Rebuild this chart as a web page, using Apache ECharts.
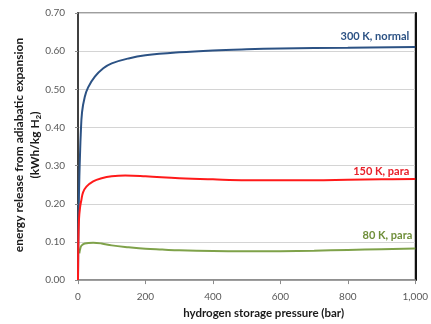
<!DOCTYPE html>
<html>
<head>
<meta charset="utf-8">
<script src="https://cdn.jsdelivr.net/npm/echarts@6/dist/echarts.min.js"></script>
<style>
  html, body { margin: 0; padding: 0; background: #fff; }
  #chart { width: 431px; height: 324px; }
</style>
</head>
<body>
<div id="chart"></div>
<script>
// Energy released by adiabatic expansion of stored hydrogen vs. storage pressure
const xTicks = [0, 200, 400, 600, 800, 1000];
const yTicks = ['0.00', '0.10', '0.20', '0.30', '0.40', '0.50', '0.60', '0.70'];

const seriesNames = ['300 K, normal', '150 K, para', '80 K, para'];

const p300 = [0, 1, 2, 4, 6, 8, 12, 20, 30, 50, 75, 100, 150, 200, 300, 400, 500, 600, 800, 1000];
const e300 = [0, 0.10, 0.18, 0.27, 0.33, 0.38, 0.44, 0.48, 0.505, 0.533, 0.555, 0.568, 0.581, 0.589, 0.597, 0.602, 0.605, 0.607, 0.609, 0.611];

const p150 = [0, 1, 3, 6, 10, 15, 25, 45, 70, 100, 140, 200, 300, 400, 500, 600, 700, 800, 900, 1000];
const e150 = [0, 0.10, 0.16, 0.19, 0.21, 0.23, 0.245, 0.259, 0.267, 0.272, 0.274, 0.272, 0.267, 0.264, 0.262, 0.262, 0.262, 0.263, 0.264, 0.265];

const p80 = [4, 6, 10, 20, 45, 70, 100, 150, 200, 250, 300, 400, 500, 600, 700, 800, 900, 1000];
const e80 = [0.070, 0.080, 0.090, 0.096, 0.098, 0.096, 0.091, 0.086, 0.082, 0.080, 0.078, 0.076, 0.0755, 0.0758, 0.077, 0.079, 0.081, 0.083];

const lineColors = ['#2c5284', '#ff1a1a', '#7fa24a'];
const labelColors = ['#2c5284', '#e8202a', '#6f8f3a'];
const labelGaps = [5, 2, 7];
const labelShift = [-6, -6, -3];

const fontStack = 'Lato, "Open Sans", sans-serif';

function curve(xs, ys) {
  return xs.map((x, i) => [x, ys[i]]);
}

// Series name written just above the right end of its curve
function endMark(xs, ys, idx) {
  const last = xs.length - 1;
  return {
    silent: true,
    symbol: 'circle',
    symbolSize: 0,
    data: [{
      coord: [xs[last], ys[last]],
      label: {
        show: true,
        formatter: seriesNames[idx],
        position: 'top',
        align: 'right',
        offset: [labelShift[idx], 0],
        distance: labelGaps[idx],
        color: labelColors[idx],
        fontFamily: fontStack,
        fontWeight: 'bold',
        fontSize: 11
      }
    }]
  };
}

const chart = echarts.init(document.getElementById('chart'), null, { renderer: 'canvas' });

const tickFont = { color: '#595959', fontSize: 10, fontFamily: fontStack };

const series = [[p300, e300], [p150, e150], [p80, e80]].map(([xs, ys], idx) => ({
  name: seriesNames[idx],
  type: 'line',
  smooth: 0.4,
  showSymbol: false,
  symbol: 'none',
  lineStyle: { color: lineColors[idx], width: 2 },
  data: curve(xs, ys),
  markPoint: endMark(xs, ys, idx),
  z: [3, 4, 2][idx]
}));

chart.setOption({
  animation: false,
  backgroundColor: '#fff',
  grid: {
    left: 78, right: 9, top: 13, bottom: 43,
    show: true, borderColor: '#7f7f7f', borderWidth: 1.5
  },
  xAxis: {
    type: 'value',
    min: xTicks[0], max: xTicks[xTicks.length - 1], interval: 200,
    axisLine: { show: true, lineStyle: { color: '#8c8c8c', width: 1.5 } },
    axisTick: { show: true, length: 4, lineStyle: { color: '#8c8c8c' } },
    splitLine: { show: false },
    axisLabel: Object.assign({
      margin: 12,
      formatter: v => v.toLocaleString('en-US')
    }, tickFont),
    name: 'hydrogen storage pressure (bar)',
    nameLocation: 'middle',
    nameGap: 19,
    nameTextStyle: {
      color: '#1a1a1a', fontSize: 11.5, fontWeight: 'bold',
      fontFamily: fontStack,
      padding: [0, 0, 0, 34]
    }
  },
  yAxis: [{
    type: 'value',
    min: 0, max: 0.7, interval: 0.1,
    axisLine: { show: true, lineStyle: { color: '#404040', width: 2 } },
    axisTick: { show: true, length: 3, lineStyle: { color: '#8c8c8c' } },
    splitLine: { show: true, lineStyle: { color: '#d4d4d4', width: 1 } },
    axisLabel: Object.assign({
      margin: 13,
      formatter: v => yTicks[Math.round(v * 10)]
    }, tickFont)
  }, {
    type: 'value', position: 'right',
    min: 0, max: 0.7, interval: 0.1,
    axisLine: { show: true, lineStyle: { color: '#111', width: 2 } },
    axisTick: { show: false }, axisLabel: { show: false }, splitLine: { show: false }
  }],
  series: series,
  graphic: [{
    type: 'text',
    x: 27, y: 145,
    rotation: Math.PI / 2,
    style: {
      text: 'energy release from adiabatic expansion\n(kWh/kg H{sub|2})',
      rich: { sub: { fontSize: 8, fontWeight: 'bold', verticalAlign: 'bottom', padding: [6, 0, 0, 0], fill: '#1a1a1a' } },
      fill: '#1a1a1a',
      font: 'bold 12px ' + fontStack,
      align: 'center',
      verticalAlign: 'middle',
      lineHeight: 16
    }
  }]
});
</script>
</body>
</html>
